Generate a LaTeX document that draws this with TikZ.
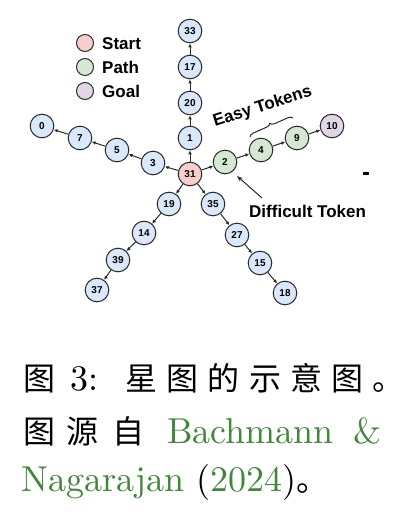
\documentclass[tikz,border=0pt]{standalone}
\usepackage{fontspec}
\newfontfamily\cjk{Noto Sans CJK SC}
\newfontfamily\labfont{Liberation Sans}
\newfontfamily\lmten{lmroman10-regular.otf}
\usetikzlibrary{arrows.meta,decorations.pathreplacing}
\definecolor{bluef}{HTML}{DAE8FC}
\definecolor{greenf}{HTML}{D5E8D4}
\definecolor{pinkf}{HTML}{F8CECC}
\definecolor{purplef}{HTML}{E1D5E7}
\definecolor{edgec}{HTML}{2B2B2B}
\definecolor{citeg}{RGB}{66,136,58}
\newcommand{\cc}[1]{\makebox[41.2pt][l]{#1}}
\begin{document}
\begin{tikzpicture}[x=1pt,y=-1pt,
  tok/.style={circle,draw=edgec,line width=1pt,minimum size=23.6pt,inner sep=0pt,
    font=\labfont\bfseries\fontsize{10}{12}\selectfont,fill=bluef},
  starttok/.style={tok,fill=pinkf},
  pathtok/.style={tok,fill=greenf},
  goaltok/.style={tok,fill=purplef},
  legdot/.style={circle,draw=edgec,line width=1pt,minimum size=17pt,inner sep=0pt},
  lab/.style={font=\labfont\bfseries\fontsize{17}{20}\selectfont,inner sep=0pt,anchor=base west},
  link/.style={draw=edgec,line width=1pt,-{Latex[length=4pt,width=3.6pt]}},
  captxt/.style={inner sep=0pt,anchor=base west,font=\lmten\fontsize{36}{40}\selectfont},
  capcj/.style={inner sep=0pt,anchor=base west,font=\cjk\fontsize{32}{40}\selectfont}
]
\useasboundingbox (0,0) rectangle (406,518);
\fill[white] (0,0) rectangle (406,518);

% legend
\node[legdot,fill=pinkf] (lstart) at (85,43) {};
\node[legdot,fill=greenf] (lpath) at (85,67) {};
\node[legdot,fill=purplef] (lgoal) at (85,91) {};
\node[lab] (tstart) at (102,49.3) {Start};
\node[lab] (tpath) at (102,73.3) {Path};
\node[lab] (tgoal) at (102,97.5) {Goal};

% nodes
\node[starttok] (n31) at (190,174) {31};
\node[tok] (n1) at (190,138) {1};
\node[tok] (n20) at (190,103) {20};
\node[tok] (n17) at (190,67) {17};
\node[tok] (n33) at (190,31) {33};
\node[tok] (n3) at (153,163) {3};
\node[tok] (n5) at (117,150) {5};
\node[tok] (n7) at (80,138) {7};
\node[tok] (n0) at (42,126) {0};
\node[pathtok] (n2) at (225,162) {2};
\node[pathtok] (n4) at (261,150) {4};
\node[pathtok] (n9) at (297,138) {9};
\node[goaltok] (n10) at (332,126) {10};
\node[tok] (n19) at (169,204) {19};
\node[tok] (n14) at (144,233) {14};
\node[tok] (n39) at (118,260) {39};
\node[tok] (n37) at (97,290) {37};
\node[tok] (n35) at (213,204) {35};
\node[tok] (n27) at (237,235) {27};
\node[tok] (n15) at (260,263) {15};
\node[tok] (n18) at (285,293) {18};

% edges
\foreach \a/\b in {31/1,1/20,20/17,17/33,31/3,3/5,5/7,7/0,31/2,2/4,4/9,9/10,
                   31/19,19/14,14/39,39/37,31/35,35/27,27/15,15/18}
  \draw[link] (n\a) -- (n\b);

% easy tokens
\node[lab,rotate=18] (teasy) at (215,127) {Easy Tokens};
\coordinate (bra) at (250,137);
\coordinate (brb) at (293,118);
\draw[edgec,line width=1pt,decorate,decoration={brace,amplitude=4.5pt}] (bra) -- (brb);

% difficult token
\node[lab] (tdiff) at (249,218) {Difficult Token};
\coordinate (dstart) at (262,198);
\coordinate (dtip) at (237,176);
\draw[draw=edgec,line width=1pt,-{Stealth[length=6pt,width=4.5pt]}] (dstart) -- (dtip);

% small dash
\fill[black] (363,172.5) rectangle (369,175.5);

% caption
\node[capcj] (c1a) at (23,390) {图};
\node[captxt] (c1b) at (70.5,390) {3:};
\node[capcj] (c1c) at (125.3,390) {\cc{星}\cc{图}\cc{的}\cc{示}\cc{意}\cc{图}。};

\node[capcj] (c2a) at (23,443) {图};
\node[capcj] (c2b) at (66,443) {源};
\node[capcj] (c2c) at (112,443) {自};
\node[captxt,text=citeg] (c2d) at (167,443) {Bachmann};
\node[captxt,text=citeg] (c2e) at (353,443) {\&};

\node[captxt] (c3a) at (21,491) {\textcolor{citeg}{Nagarajan} (\textcolor{citeg}{2024})};
\node[capcj,anchor=base west] (c3b) at (c3a.base east) {。};
\end{tikzpicture}
\end{document}
